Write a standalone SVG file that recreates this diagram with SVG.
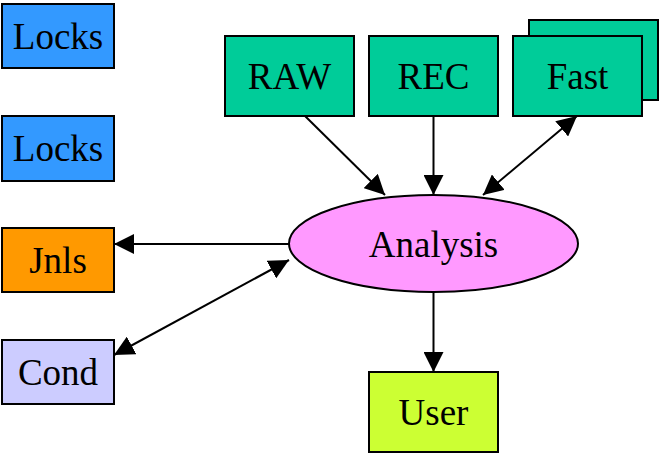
<svg xmlns="http://www.w3.org/2000/svg" width="659" height="453" viewBox="0 0 659 453">
  <style>
    .box { stroke: #000; stroke-width: 2; }
    .lbl { font-family: "Liberation Serif", "Times New Roman", serif; font-size: 37px; text-anchor: middle; fill: #000; }
    .edge { stroke: #000; stroke-width: 2; fill: none; }
  </style>
  <defs>
    <marker id="arrow" markerUnits="userSpaceOnUse" markerWidth="21" markerHeight="20" refX="20" refY="10" orient="auto-start-reverse" viewBox="0 0 21 20">
      <path d="M0,0 L20,10 L0,20 z" fill="#000"/>
    </marker>
  </defs>

  <g id="locks1">
    <rect class="box" x="2" y="4" width="112" height="64" fill="#3399ff"/>
    <text class="lbl" x="58" y="49">Locks</text>
  </g>
  <g id="locks2">
    <rect class="box" x="2" y="116" width="112" height="65" fill="#3399ff"/>
    <text class="lbl" x="58" y="161">Locks</text>
  </g>
  <g id="jnls">
    <rect class="box" x="2" y="228" width="112" height="64" fill="#ff9900"/>
    <text class="lbl" x="58" y="273">Jnls</text>
  </g>
  <g id="cond">
    <rect class="box" x="2" y="340" width="112" height="64" fill="#ccccff"/>
    <text class="lbl" x="58" y="385">Cond</text>
  </g>
  <g id="raw">
    <rect class="box" x="225" y="36" width="129" height="80" fill="#00cc99"/>
    <text class="lbl" x="289.5" y="89">RAW</text>
  </g>
  <g id="rec">
    <rect class="box" x="369" y="36" width="129" height="80" fill="#00cc99"/>
    <text class="lbl" x="433.5" y="89">REC</text>
  </g>
  <g id="fast">
    <rect class="box" x="529" y="20" width="129" height="80" fill="#00cc99"/>
    <rect class="box" x="513" y="36" width="129" height="80" fill="#00cc99"/>
    <text class="lbl" x="577.5" y="89">Fast</text>
  </g>
  <g id="analysis">
    <ellipse class="box" cx="433.5" cy="243.5" rx="144.5" ry="48.5" fill="#ff99ff"/>
    <text class="lbl" x="433.5" y="257">Analysis</text>
  </g>
  <g id="user">
    <rect class="box" x="369" y="372" width="129" height="80" fill="#ccff33"/>
    <text class="lbl" x="433.5" y="425">User</text>
  </g>

  <g id="connectors">
    <line class="edge" x1="305" y1="116" x2="385" y2="195" marker-end="url(#arrow)"/>
    <line class="edge" x1="433.5" y1="116" x2="433.5" y2="195" marker-end="url(#arrow)"/>
    <line class="edge" x1="483" y1="195" x2="577" y2="116" marker-start="url(#arrow)" marker-end="url(#arrow)"/>
    <line class="edge" x1="289" y1="244" x2="114" y2="244" marker-end="url(#arrow)"/>
    <line class="edge" x1="114" y1="355" x2="289" y2="260" marker-start="url(#arrow)" marker-end="url(#arrow)"/>
    <line class="edge" x1="433.5" y1="292" x2="433.5" y2="372" marker-end="url(#arrow)"/>
  </g>
</svg>
